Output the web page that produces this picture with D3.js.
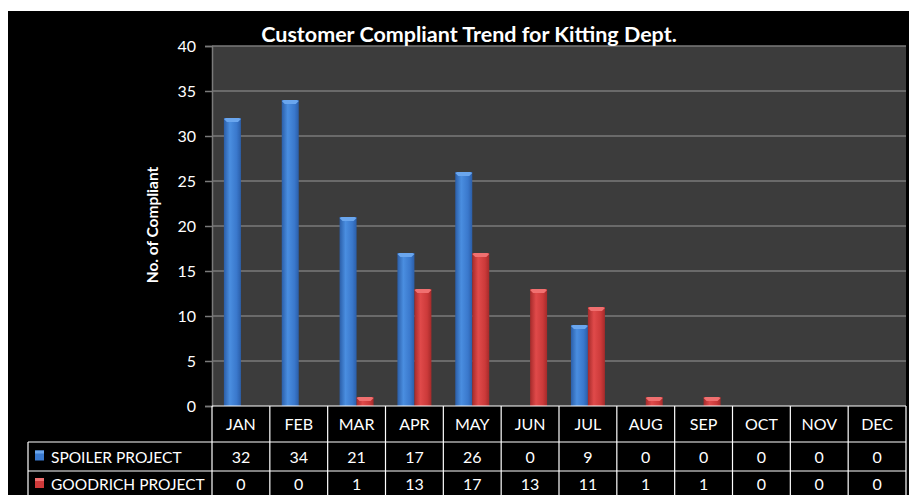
<!DOCTYPE html>
<html><head><meta charset="utf-8">
<script src="https://cdn.jsdelivr.net/npm/d3@7"></script>
<style>body{margin:0;background:#fff;}svg{display:block;}</style>
</head><body>
<script>
const months = ["JAN","FEB","MAR","APR","MAY","JUN","JUL","AUG","SEP","OCT","NOV","DEC"];
const spoiler = [32,34,21,17,26,0,9,0,0,0,0,0];
const goodrich = [0,0,1,13,17,13,11,1,1,0,0,0];
const seriesNames = ["SPOILER PROJECT","GOODRICH PROJECT"];
const yTicks = [0,5,10,15,20,25,30,35,40];
const title = "Customer Compliant Trend for Kitting Dept.";
const yLabel = "No. of Compliant";

const W = 909, H = 495;
const font = "Lato, 'Open Sans', sans-serif";
const svg = d3.select("body").append("svg").attr("width", W).attr("height", H);
const defs = svg.append("defs");
function grad(id, edge, mid, light) {
  const g = defs.append("linearGradient").attr("id", id).attr("x1","0").attr("x2","1").attr("y1","0").attr("y2","0");
  g.append("stop").attr("offset","0%").attr("stop-color", edge);
  g.append("stop").attr("offset","35%").attr("stop-color", light);
  g.append("stop").attr("offset","75%").attr("stop-color", mid);
  g.append("stop").attr("offset","100%").attr("stop-color", edge);
}
grad("gBlue", "#2b5ea8", "#3a78cc", "#4a8ee0");
grad("gRed", "#a52a2a", "#cc3a3a", "#e04a4a");
const colors = [{fill:"url(#gBlue)", cap:"#6aa6ee", legend:"#3a7ad0"},{fill:"url(#gRed)", cap:"#f07070", legend:"#d03a3a"}];

// black panel
svg.append("rect").attr("x", 8).attr("y", 11).attr("width", W-8).attr("height", H-11).attr("fill", "#000");

const pLeft = 212, pRight = 906, pTop = 46, pBottom = 406;
const x = d3.scaleBand().domain(months).range([pLeft, pRight]).paddingInner(0).paddingOuter(0);
const y = d3.scaleLinear().domain([0, 40]).range([pBottom, pTop]);
const barW = 17;
const xs = d3.scaleBand().domain([0,1]).range([0, barW*2]);

svg.append("rect").attr("x", pLeft).attr("y", pTop).attr("width", pRight-pLeft).attr("height", pBottom-pTop).attr("fill", "#3c3c3c");

// grid
const gGrid = svg.append("g");
gGrid.selectAll("line").data(yTicks.filter(t=>t>0)).join("line")
  .attr("x1", pLeft).attr("x2", pRight).attr("y1", d=>y(d)).attr("y2", d=>y(d))
  .attr("stroke", "#7a7a7a").attr("stroke-width", 1.5);

// y axis
const yAxis = d3.axisLeft(y).tickValues(yTicks).tickSize(7).tickPadding(9);
const ga = svg.append("g").attr("transform", `translate(${pLeft},0)`).call(yAxis);
ga.select(".domain").attr("stroke", "#7a7a7a").attr("stroke-width", 1.5);
ga.selectAll(".tick line").attr("stroke", "#7a7a7a").attr("stroke-width", 1.5);
ga.selectAll("text").attr("fill", "#fff").attr("font-size", 16).attr("font-family", font);

// bars
const data = [spoiler, goodrich];
data.forEach((vals, si) => {
  const g = svg.append("g");
  const items = months.map((m,i)=>({m, v: vals[i]})).filter(d=>d.v>0);
  const bx = d => x(d.m) + (x.bandwidth()-barW*2)/2 + xs(si);
  g.selectAll("rect.bar").data(items).join("rect").attr("class","bar")
    .attr("x", bx).attr("y", d=>y(d.v)).attr("width", barW).attr("height", d=>pBottom-y(d.v))
    .attr("fill", colors[si].fill);
  g.selectAll("path.cap").data(items).join("path").attr("class","cap")
    .attr("d", d => {
      const x0 = bx(d), y0 = y(d.v);
      return `M${x0},${y0+1} L${x0+2},${y0} L${x0+barW-2},${y0} L${x0+barW},${y0+1} L${x0+barW-3},${y0+4} L${x0+3},${y0+4} Z`;
    })
    .attr("fill", colors[si].cap);
});

// title
svg.append("text").attr("x", 469).attr("y", 42).attr("text-anchor","middle")
  .attr("fill","#fff").attr("font-weight","bold").attr("font-size", 21.5).attr("font-family", font).text(title);

// y label
svg.append("text").attr("transform", `translate(158,225) rotate(-90)`).attr("text-anchor","middle")
  .attr("fill","#fff").attr("font-weight","bold").attr("font-size", 15.5).attr("font-family", font).text(yLabel);

// data table
const rowTops = [406, 442, 471, 495];
const tableLeft = 28;
const tg = svg.append("g").attr("stroke", "#fff").attr("stroke-width", 1.2);
tg.append("line").attr("x1", pLeft).attr("x2", pRight).attr("y1", rowTops[0]).attr("y2", rowTops[0]);
tg.append("line").attr("x1", tableLeft).attr("x2", pRight).attr("y1", rowTops[1]).attr("y2", rowTops[1]);
tg.append("line").attr("x1", tableLeft).attr("x2", pRight).attr("y1", rowTops[2]).attr("y2", rowTops[2]);
const vx = months.map(m=>x(m)).concat([pRight]);
tg.selectAll("line.v").data(vx).join("line").attr("class","v")
  .attr("x1", d=>d).attr("x2", d=>d).attr("y1", rowTops[0]).attr("y2", H);
tg.append("line").attr("x1", tableLeft).attr("x2", tableLeft).attr("y1", rowTops[1]).attr("y2", H);

svg.append("g").selectAll("text").data(months).join("text")
  .attr("x", d=>x(d)+x.bandwidth()/2).attr("y", (rowTops[0]+rowTops[1])/2+6).attr("text-anchor","middle")
  .attr("fill","#fff").attr("font-size", 16).attr("font-family", font).text(d=>d);

data.forEach((vals, si) => {
  const midY = si===1 ? 490 : (rowTops[1]+rowTops[2])/2 + 6;
  svg.append("g").selectAll("text").data(vals).join("text")
    .attr("x", (d,i)=>x(months[i])+x.bandwidth()/2).attr("y", midY).attr("text-anchor","middle")
    .attr("fill","#fff").attr("font-size", 16).attr("font-family", font).text(d=>d);
  svg.append("rect").attr("x", 35).attr("y", midY-12).attr("width", 9).attr("height", 10).attr("fill", colors[si].legend);
  svg.append("rect").attr("x", 35).attr("y", midY-12).attr("width", 9).attr("height", 3).attr("fill", colors[si].cap);
  svg.append("text").attr("x", 51).attr("y", midY).attr("fill","#fff").attr("font-size", 15.5).attr("font-family", font).text(seriesNames[si]);
});
</script>
</body></html>
